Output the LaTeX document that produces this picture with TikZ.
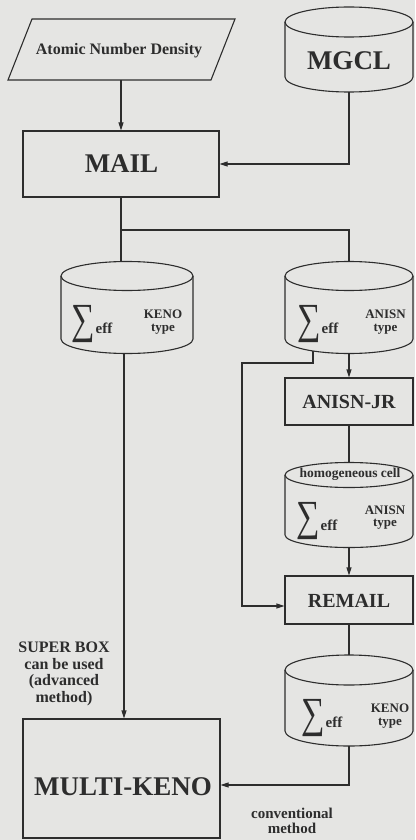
\documentclass[tikz,border=0pt]{standalone}
\usepackage{fontspec}
\usepackage{graphicx}
\setmainfont{Liberation Serif}
\usetikzlibrary{arrows.meta,calc}
\definecolor{bg}{RGB}{229,229,227}
\definecolor{ink}{RGB}{45,45,45}
\newcommand\fs[1]{\fontsize{#1}{#1}\selectfont\bfseries}
\newcommand\fsl[2]{\fontsize{#1}{#2}\selectfont\bfseries}
\newcommand\sigeff{\scalebox{1}[1.3]{\fontsize{33}{33}\selectfont\mdseries ∑}\kern1pt{\fs{15}eff}}
\newcommand\mycyl[6]{%
  \pgfmathsetmacro\cylcx{(#2+#3)/2}%
  \pgfmathsetmacro\cylrx{(#3-#2)/2}%
  \pgfmathsetmacro\cylkx{0.5523*\cylrx}%
  \pgfmathsetmacro\cylky{0.5523*#6}%
  \pgfmathsetmacro\cylbot{#5+#6}%
  \pgfmathsetmacro\cyltop{#4-#6}%
  \pgfmathsetmacro\cylw{#3-#2}%
  \pgfmathsetmacro\cylh{#5-#4+2*#6}%
  \node[cylbox, minimum width=\cylw pt, minimum height=\cylh pt] (#1) at (\cylcx,{(#4+#5)/2}) {};
  \draw[ln] (#2,#4) -- (#2,#5) .. controls (#2,#5+\cylky) and (\cylcx-\cylkx,\cylbot) .. (\cylcx,\cylbot)
     .. controls (\cylcx+\cylkx,\cylbot) and (#3,#5+\cylky) .. (#3,#5) -- (#3,#4);
  \draw[ln] (\cylcx,#4) ellipse [x radius=\cylrx, y radius=#6];
}
\tikzset{
  ln/.style={draw=ink, line width=1.1pt},
  arr/.style={ln, -{Triangle[length=8pt,width=5pt]}},
  boxn/.style={ln, rectangle, inner sep=0pt, text=ink},
  txt/.style={inner sep=0pt, text=ink},
  cylbox/.style={draw=none, inner sep=0pt, rectangle},
}
\begin{document}
\begin{tikzpicture}[x=1pt,y=-1pt]
\fill[bg] (0,0) rectangle (415,840);
\useasboundingbox (0,0) rectangle (415,840);

% parallelogram
\draw[ln] (32,19) -- (235,19) -- (211,80) -- (8,80) -- cycle;
\node[cylbox, minimum width=200pt, minimum height=61pt] (adn) at (121,49.5) {};
\node[txt, anchor=base, font=\fs{16}] (adnt) at (119,55) {Atomic Number Density};

% MGCL
\mycyl{mgcl}{285}{413}{22}{77}{15}
\node[txt, anchor=base, font=\fs{27}] (mgclt) at (349,70) {MGCL};

% MAIL
\node[boxn, minimum width=196pt, minimum height=66pt] (mail) at (121,164) {};
\node[txt, anchor=base, font=\fs{27}] (mailt) at (121.5,172) {MAIL};

% cylinders row
\mycyl{keno1}{61}{193}{276}{339}{14.5}
\mycyl{anisn1}{285}{413}{276}{339}{14.5}
\node[txt, anchor=base west] (s1) at (71,333) {\sigeff};
\node[txt, align=center, font=\fsl{13}{13}] (k1t) at (163,321.7) {KENO\\type};
\node[txt, anchor=base west] (s2) at (297,333) {\sigeff};
\node[txt, align=center, font=\fsl{13}{13}] (a1t) at (385.5,321.7) {ANISN\\type};

% ANISN-JR
\node[boxn, minimum width=128pt, minimum height=47pt] (ajr) at (349,401.5) {};
\node[txt, anchor=base, font=\fs{20}] (ajrt) at (349,408) {ANISN-JR};

% homogeneous cylinder
\mycyl{hom}{285}{413}{475}{535}{12.5}
\node[txt, font=\fs{13.5}] (homt) at (350,474) {homogeneous cell};
\node[txt, anchor=base west] (s3) at (296,530) {\sigeff};
\node[txt, align=center, font=\fsl{13}{12}] (a2t) at (385,517.5) {ANISN\\type};

% REMAIL
\node[boxn, minimum width=128pt, minimum height=48pt] (remail) at (349,600) {};
\node[txt, anchor=base, font=\fs{20}] (remailt) at (349,607) {REMAIL};

% bottom KENO cylinder
\mycyl{keno2}{285}{413}{670}{731}{15}
\node[txt, anchor=base west] (s4) at (301,727) {\sigeff};
\node[txt, align=center, font=\fsl{13}{13}] (k2t) at (390,715.7) {KENO\\type};

% MULTI-KENO
\node[boxn, minimum width=197pt, minimum height=119pt] (multi) at (121.5,778.5) {};
\node[txt, anchor=base, font=\fs{27}] (multit) at (123,795) {MULTI-KENO};

% side labels
\node[txt, align=center, font=\fsl{16}{16.5}] (super) at (64,674) {SUPER BOX\\can be used\\(advanced\\method)};
\node[txt, align=center, font=\fsl{15}{15}] (conv) at (292,820.5) {conventional\\method};

% connectors
\coordinate (split) at (121,230);
\coordinate (mk) at (0,785);
\coordinate (byp0) at (313,351);
\coordinate (b1) at (313,363);
\coordinate (b2) at (242,363);
\coordinate (b3) at (242,606);

\draw[arr] (adn.south -| mail.north) -- (mail.north);
\draw[arr] (mgcl.south) -- (mgcl.south |- mail.east) -- (mail.east);
\draw[ln] (mail.south) -- (split) -- (split -| anisn1.north) -- (anisn1.north);
\draw[ln] (split) -- (split |- keno1.north);
\draw[arr] ([xshift=-3pt]keno1.south) -- ([xshift=-3pt]keno1.south |- multi.north);
\draw[arr] (anisn1.south) -- (ajr.north);
\draw[arr] (byp0) -- (b1) -- (b2) -- (b3) -- (b3 -| remail.west);
\draw[ln] (ajr.south) -- (hom.north);
\draw[arr] (hom.south) -- (remail.north);
\draw[ln] (remail.south) -- (keno2.north);
\draw[arr] (keno2.south) -- (keno2.south |- mk) -- (mk -| multi.east);
\end{tikzpicture}
\end{document}
